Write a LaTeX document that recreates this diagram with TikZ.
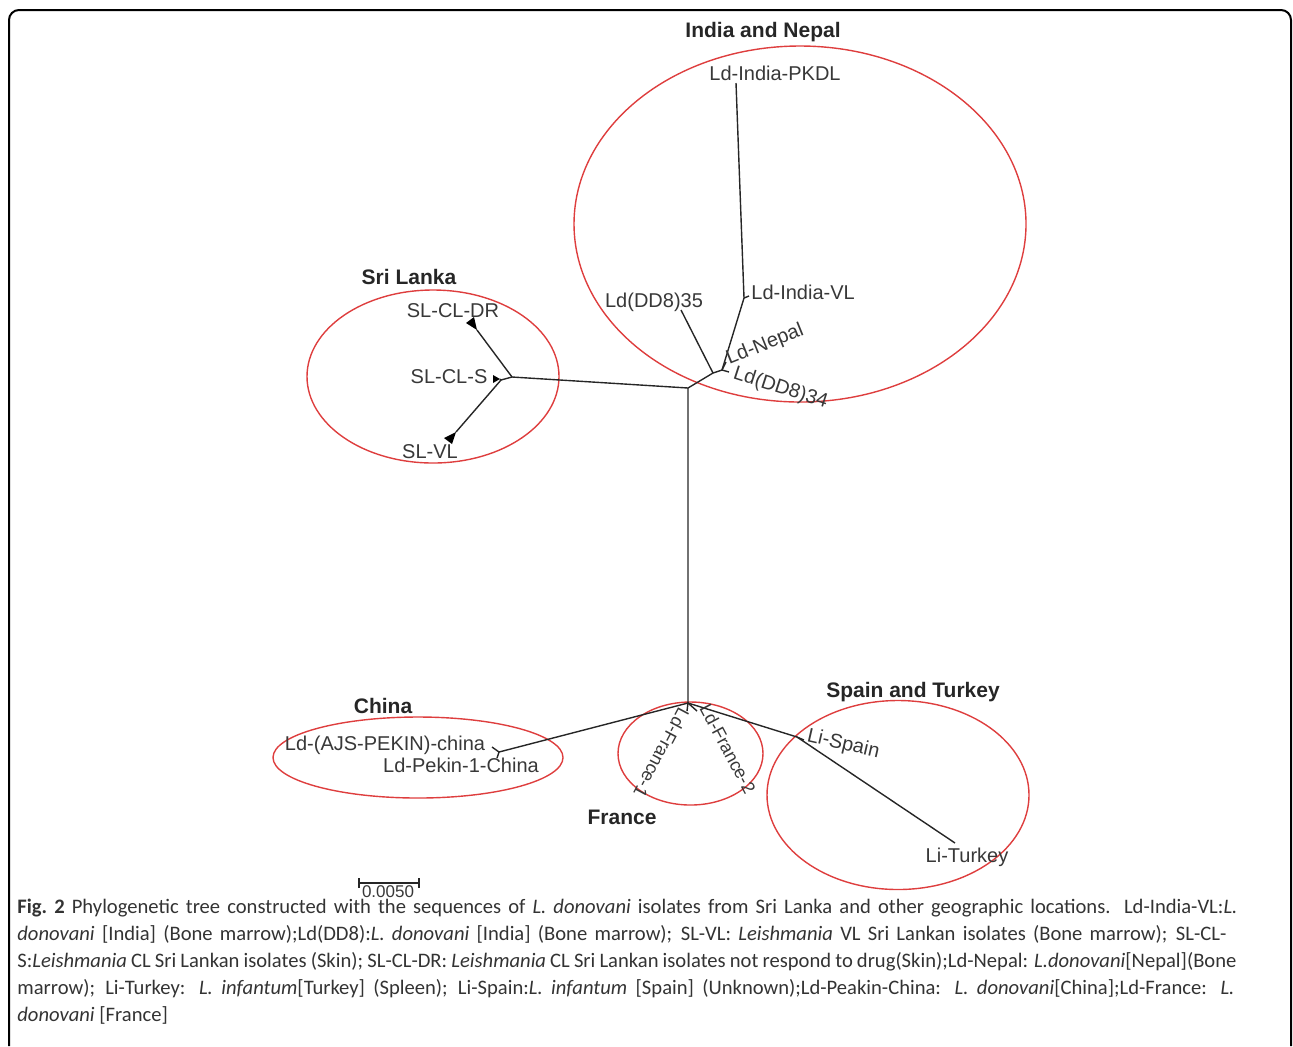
\documentclass[tikz,border=0pt]{standalone}
\usepackage{fontspec}
\setmainfont{Carlito}
\newfontfamily\treefont{Liberation Sans}
\usetikzlibrary{shapes.geometric}
\tikzset{>=stealth}
\definecolor{ringColor}{RGB}{222,62,62}
\colorlet{branchColor}{black!85}
\colorlet{tagColor}{black!78}
\colorlet{capColor}{black!80}
\tikzset{
  ring/.style={draw=ringColor, line width=0.7pt, ellipse, inner sep=0pt},
  branch/.style={draw=branchColor, line width=0.7pt},
  clade/.style={fill=black},
  leaf/.style={font=\treefont\fontsize{10}{12}\selectfont, text=tagColor, inner sep=0pt},
  smallleaf/.style={leaf, font=\treefont\fontsize{9}{11}\selectfont},
  region/.style={font=\treefont\bfseries\fontsize{10.5}{12}\selectfont, text=black!85, inner sep=0pt},
  caption/.style={font=\fontsize{10.3}{12}\selectfont, text=capColor, inner sep=0pt, anchor=base west}
}

\begin{document}
\begin{tikzpicture}[x=0.5pt,y=-0.5pt]
    \useasboundingbox (0,0) rectangle (1293,1046);
    \draw[line width=1pt, rounded corners=5pt] (9,1046) -- (9,10) -- (1291,10) -- (1291,1046);

    % groups
    \node[ring, minimum width=226pt, minimum height=178pt] (indRing) at (800,224) {};
    \node[ring, minimum width=126pt, minimum height=86.5pt] (slRing) at (433,376.5) {};
    \node[ring, minimum width=145pt, minimum height=40.5pt] (chRing) at (418,757.5) {};
    \node[ring, minimum width=72.5pt, minimum height=51.5pt] (frRing) at (690.5,753.5) {};
    \node[ring, minimum width=131pt, minimum height=94.5pt] (spRing) at (898,795) {};

    \node[region] (indTitle) at (763,32) {India and Nepal};
    \node[region] (slTitle) at (409,277) {Sri Lanka};
    \node[region] (chTitle) at (383,706) {China};
    \node[region] (frTitle) at (622,817) {France};
    \node[region] (spTitle) at (913,692) {Spain and Turkey};

    % inner nodes
    \coordinate (root) at (688,388);
    \coordinate (slJ) at (512,377);
    \coordinate (slJ2) at (501,380);
    \coordinate (indJ) at (713,373);
    \coordinate (indJ2) at (722,370);
    \coordinate (indJ3) at (744,298);
    \coordinate (base) at (688,703);
    \coordinate (chJ) at (499,752);
    \coordinate (spJ) at (797,737);

    % leaves
    \coordinate (pkdl) at (736,83);
    \coordinate (indVL) at (749,296);
    \coordinate (dd35) at (681,310);
    \coordinate (nepal) at (726,362);
    \coordinate (dd34) at (729,372);
    \coordinate (clDR) at (477,330);
    \coordinate (clS) at (500,379);
    \coordinate (vl) at (456,432);
    \coordinate (pekA) at (492,747);
    \coordinate (pekB) at (497,758);
    \coordinate (fr1) at (687,711);
    \coordinate (fr2) at (697,711);
    \coordinate (spain) at (804,740);
    \coordinate (turkey) at (955,843);

    % branches
    \draw[branch] (slJ) -- (root) -- (base);
    \draw[branch] (root) -- (indJ) -- (indJ2) -- (indJ3) -- (pkdl);
    \draw[branch] (indJ3) -- (indVL);
    \draw[branch] (indJ) -- (dd35);
    \draw[branch] (indJ2) -- (nepal);
    \draw[branch] (indJ2) -- (dd34);
    \draw[branch] (slJ) -- (clDR);
    \draw[branch] (slJ) -- (slJ2) -- (vl);
    \draw[branch] (slJ2) -- (clS);
    \draw[branch] (base) -- (chJ) -- (pekA);
    \draw[branch] (chJ) -- (pekB);
    \draw[branch] (base) -- (fr1);
    \draw[branch] (base) -- (fr2);
    \draw[branch] (base) -- (spJ) -- (turkey);
    \draw[branch] (spJ) -- (spain);

    % collapsed clades
    \fill[clade] (clDR) -- (474,317) -- (466,323) -- cycle;
    \fill[clade] (clS) -- (493,375) -- (493,383) -- cycle;
    \fill[clade] (vl) -- (452,444) -- (444,438) -- cycle;

    % labels
    \node[leaf] (pkdlTag) at (775,73) {Ld-India-PKDL};
    \node[leaf, anchor=west] (indVLTag) at (751,292) {Ld-India-VL};
    \node[leaf] (dd35Tag) at (654,302) {Ld(DD8)35};
    \node[leaf, anchor=base west, rotate=22] (nepalTag) at (729,365) {Ld-Nepal};
    \node[leaf, anchor=base west, rotate=-18] (dd34Tag) at (732,378) {Ld(DD8)34};
    \node[leaf] (clDRTag) at (453,311) {SL-CL-DR};
    \node[leaf] (clSTag) at (449,377) {SL-CL-S};
    \node[leaf] (vlTag) at (430,452) {SL-VL};
    \node[leaf] (pekATag) at (385,745) {Ld-(AJS-PEKIN)-china};
    \node[leaf] (pekBTag) at (461,765) {Ld-Pekin-1-China};
    \node[smallleaf, anchor=base west, rotate=-118] (fr1Tag) at (679,706) {Ld-France-1};
    \node[smallleaf, anchor=base west, rotate=-62] (fr2Tag) at (699,708) {Ld-France-2};
    \node[leaf, anchor=base west, rotate=-13] (spainTag) at (806,741) {Li-Spain};
    \node[leaf] (turkeyTag) at (967,857) {Li-Turkey};

    % scale
    \coordinate (barL) at (359,883);
    \coordinate (barR) at (419,883);
    \draw[branch] (barL) -- (barR);
    \draw[branch] ([yshift=2.5pt]barL) -- ([yshift=-2.5pt]barL);
    \draw[branch] ([yshift=2.5pt]barR) -- ([yshift=-2.5pt]barR);
    \node[leaf, font=\treefont\fontsize{8.5}{10}\selectfont] (barTag) at (388,892) {0.0050};

    % caption
    \node[caption] (cap1) at (17,913) {\makebox[610pt][s]{\textbf{Fig.~2} Phylogenetic tree constructed with the sequences of \textit{L. donovani} isolates from Sri Lanka and other geographic locations. Ld-India-VL:\textit{L.}}};
    \node[caption] (cap2) at (17,940) {\makebox[604.5pt][s]{\textit{donovani} [India] (Bone marrow);Ld(DD8):\textit{L. donovani} [India] (Bone marrow); SL-VL: \textit{Leishmania} VL Sri Lankan isolates (Bone marrow); SL-CL-}};
    \node[caption] (cap3) at (17,967) {\makebox[609.5pt][s]{S:\textit{Leishmania} CL Sri Lankan isolates (Skin); SL-CL-DR: \textit{Leishmania} CL Sri Lankan isolates not respond to drug(Skin);Ld-Nepal: \textit{L.donovani}[Nepal](Bone}};
    \node[caption] (cap4) at (17,994) {\makebox[608.5pt][s]{marrow); Li-Turkey: \textit{L. infantum}[Turkey] (Spleen); Li-Spain:\textit{L. infantum} [Spain] (Unknown);Ld-Peakin-China: \textit{L. donovani}[China];Ld-France: \textit{L.}}};
    \node[caption] (cap5) at (17,1021) {\textit{donovani} [France]};
\end{tikzpicture}
\end{document}
